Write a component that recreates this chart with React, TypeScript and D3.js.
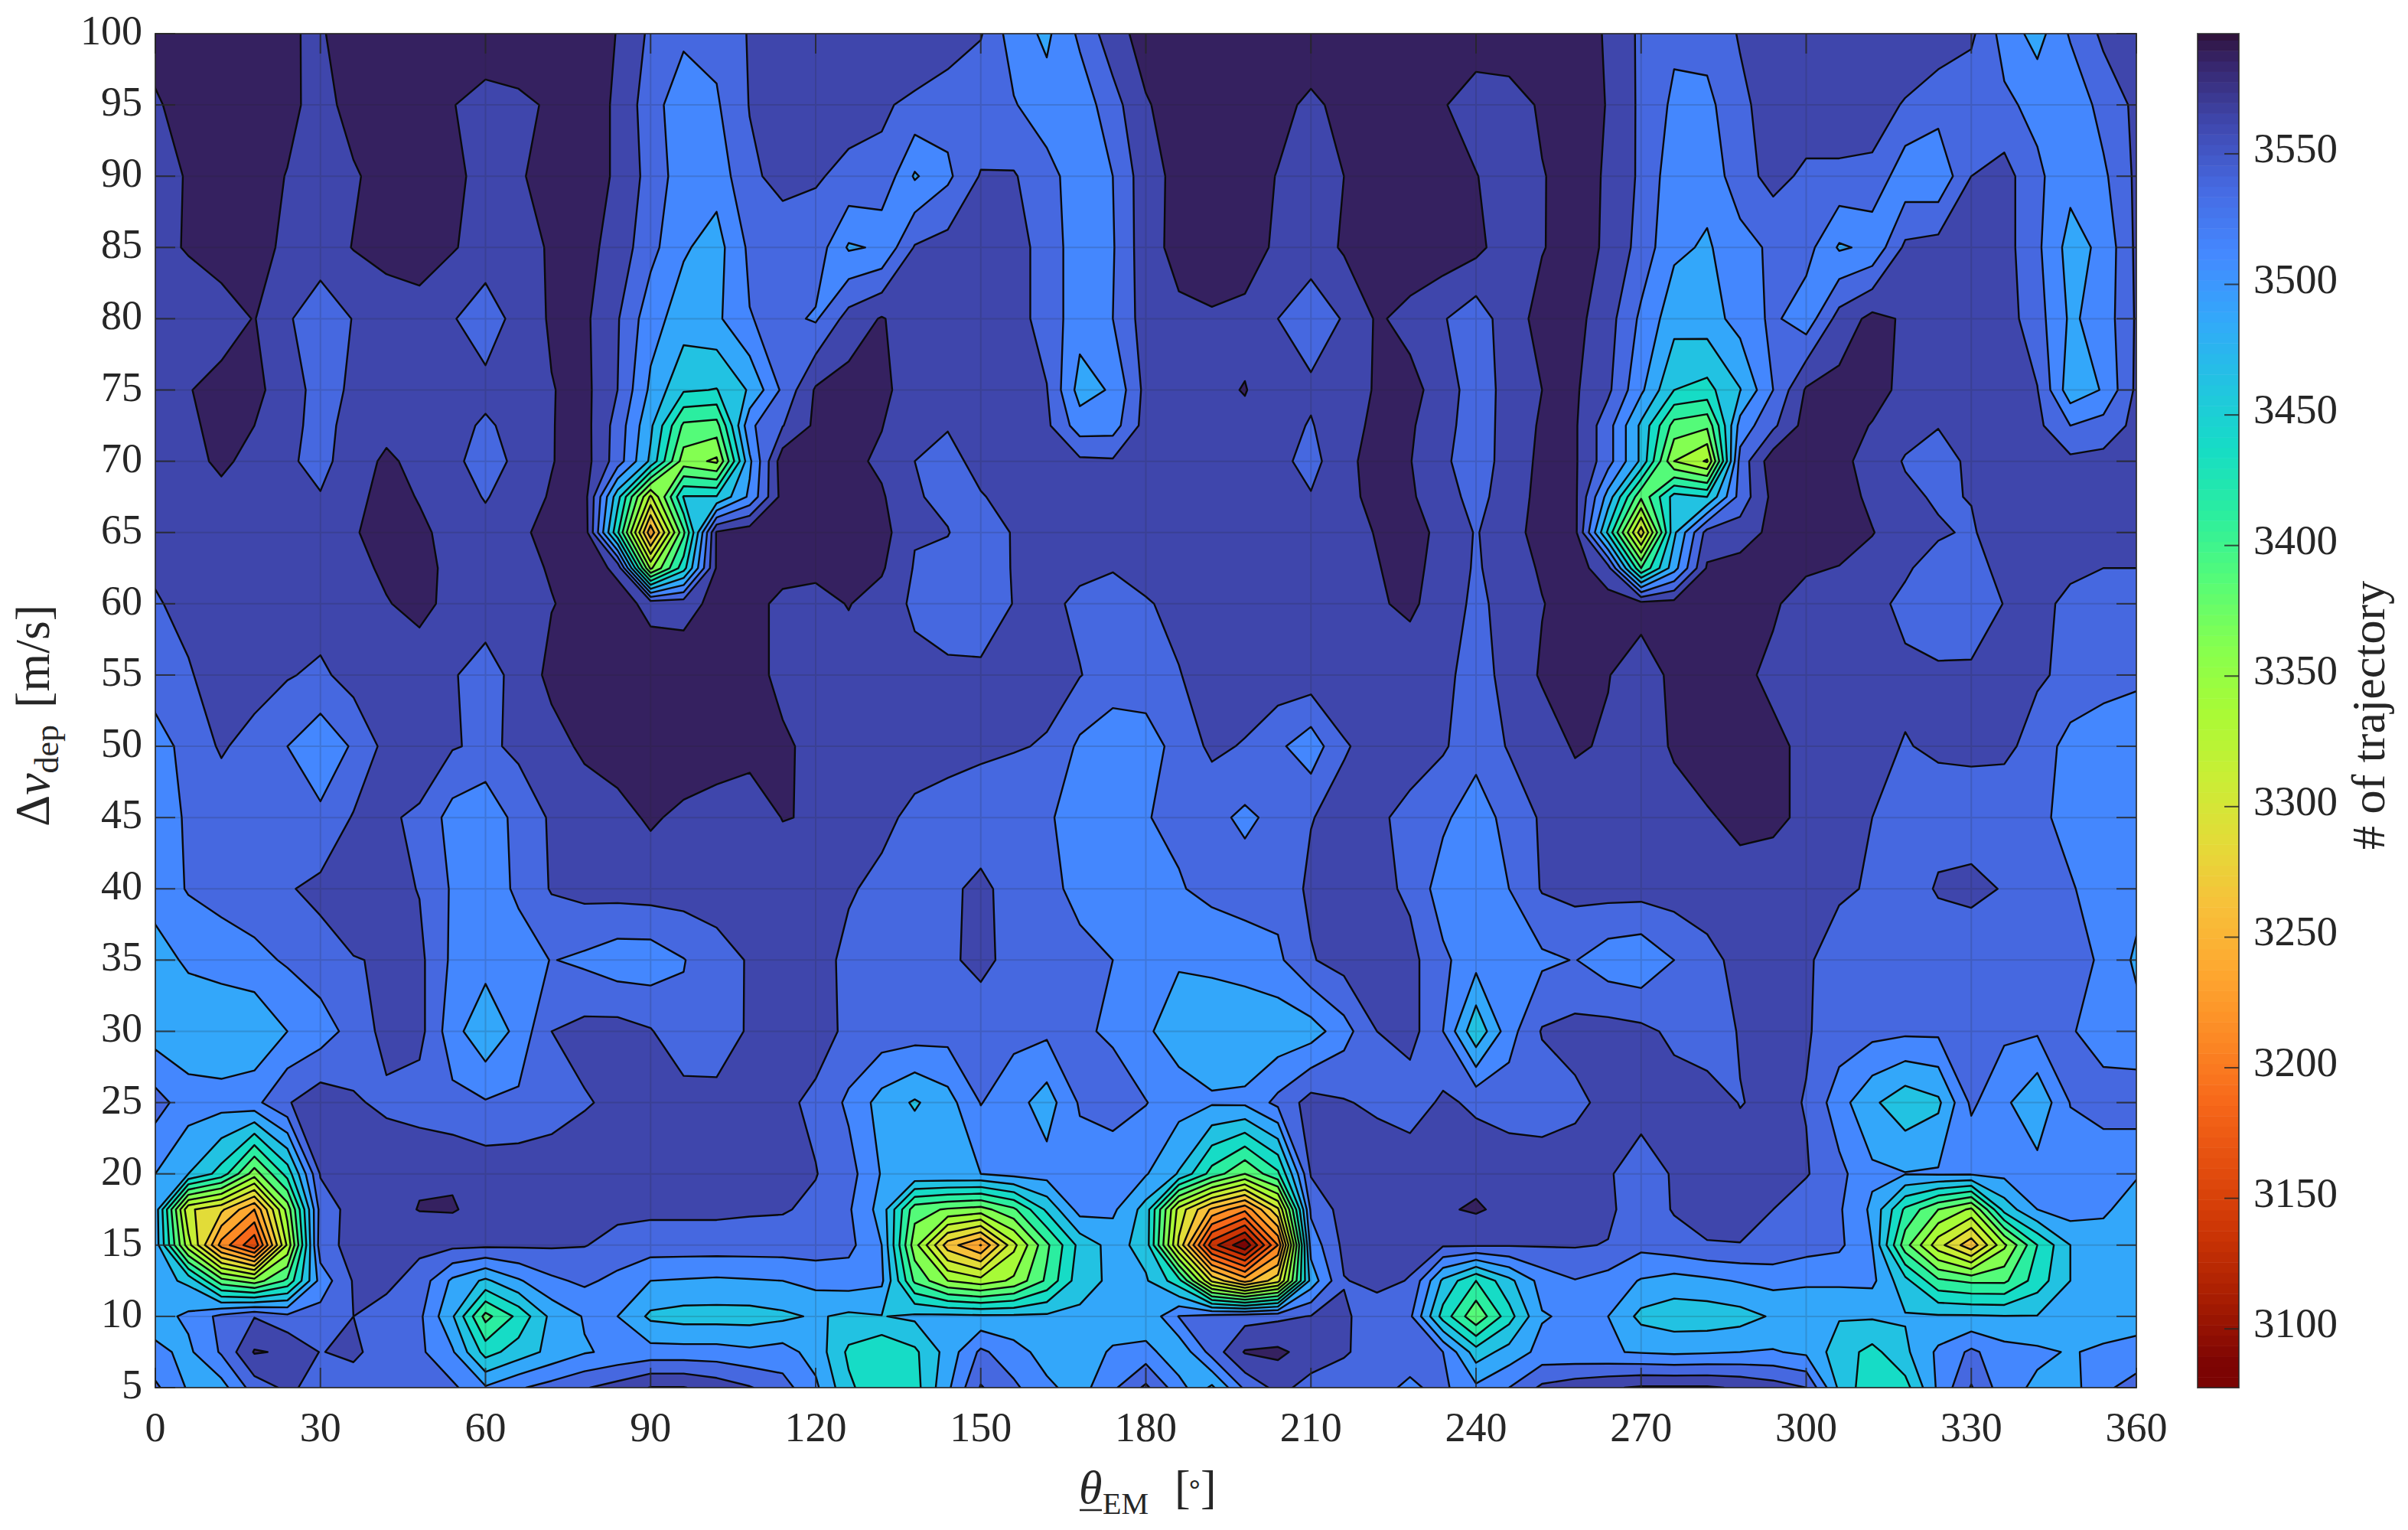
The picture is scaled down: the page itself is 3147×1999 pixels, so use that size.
import React from 'react'
import * as d3 from 'd3'

// columns every 6 deg, rows every 5 m/s with extra rows where the peaks are
const thetas = d3.range(0, 361, 6)
const dvs = [5, 7.5, 10, 12.5, 15, 17.5, 20, 25, 30, 35, 40, 45, 50, 55, 60, 62.5, 65, 67.5, 70, 72.5, 75, 80, 85, 90, 95, 100]

const xTicks = [0, 30, 60, 90, 120, 150, 180, 210, 240, 270, 300, 330, 360]
const yTicks = [5, 10, 15, 20, 25, 30, 35, 40, 45, 50, 55, 60, 65, 70, 75, 80, 85, 90, 95, 100]
const cbTicks = [3100, 3150, 3200, 3250, 3300, 3350, 3400, 3450, 3500, 3550]
const levels = d3.range(3100, 3600, 25)

const colorValues = [3596, 3585, 3562, 3537, 3512, 3487, 3462, 3437, 3412, 3387, 3362, 3337, 3312, 3287, 3262, 3237, 3212, 3187, 3162, 3137, 3112, 3087, 3077]
const colorHex = ['#30123b', '#36256b', '#3f47ad', '#4669e1', '#4488ff', '#33a8fa', '#22c3e2', '#16dcc5', '#2bee9f', '#55fb78', '#84ff50', '#a8fb36', '#c8ee35', '#e3dc38', '#f7c03a', '#fea830', '#fc8a25', '#f7681a', '#e34d0e', '#cc3505', '#a81e02', '#7d0403', '#7a0403']

const z5 = [3530,3497,3490,3537,3555,3540,3535,3535,3535,3530,
  3503,3522,3535,3548,3560,3576,3576,3565,3552,3535,
  3505,3455,3430,3440,3495,3552,3530,3505,3490,3520,
  3555,3510,3470,3530,3558,3540,3535,3530,3522,3530,
  3505,3525,3555,3565,3572,3578,3578,3578,3572,3562,
  3550,3470,3430,3440,3505,3552,3510,3495,3490,3520,
  3535]
const z7_5 = [3505,3495,3528,3577,3572,3549,3556,3535,3530,3503,
  3440,3462,3482,3498,3505,3510,3510,3510,3505,3510,
  3490,3445,3428,3445,3485,3530,3510,3490,3480,3505,
  3510,3480,3535,3577,3580,3565,3553,3538,3532,3525,
  3462,3485,3508,3505,3502,3498,3495,3497,3500,3502,
  3495,3462,3442,3470,3505,3530,3510,3505,3498,3505,
  3510]
const z10 = [3490,3505,3532,3549,3532,3535,3550,3540,3530,3478,
  3392,3432,3482,3502,3500,3470,3465,3465,3465,3470,
  3478,3470,3474,3480,3482,3480,3480,3480,3480,3478,
  3478,3526,3535,3540,3545,3551,3553,3540,3530,3440,
  3380,3440,3498,3505,3500,3468,3460,3460,3465,3478,
  3477,3477,3478,3477,3478,3478,3476,3476,3480,3484,
  3488]
const z12_5 = [3485,3470,3385,3362,3405,3510,3552,3556,3540,3495,
  3470,3497,3520,3530,3518,3500,3498,3496,3498,3500,
  3508,3512,3505,3395,3350,3335,3355,3405,3465,3480,
  3478,3435,3295,3240,3290,3485,3549,3555,3549,3470,
  3425,3468,3510,3524,3515,3498,3490,3495,3502,3508,
  3505,3505,3506,3458,3405,3395,3395,3437,3475,3485,
  3487]
const z15 = [3490,3335,3215,3155,3330,3540,3558,3556,3556,3556,
  3555,3554,3553,3551,3542,3538,3538,3538,3538,3538,
  3538,3532,3500,3360,3262,3224,3318,3395,3458,3485,
  3465,3295,3135,3080,3200,3510,3556,3560,3556,3553,
  3553,3552,3552,3552,3549,3532,3540,3548,3549,3545,
  3535,3530,3500,3385,3310,3258,3345,3425,3475,3485,
  3488]
const z17_5 = [3490,3305,3280,3225,3360,3535,3560,3565,3576,3577,
  3566,3562,3560,3558,3556,3555,3555,3555,3553,3552,
  3545,3528,3490,3385,3372,3365,3395,3455,3510,3505,
  3465,3315,3245,3206,3295,3530,3560,3565,3568,3572,
  3578,3568,3565,3560,3555,3535,3552,3562,3562,3550,
  3535,3528,3495,3420,3375,3345,3460,3500,3512,3505,
  3485]
const z20 = [3500,3475,3440,3362,3435,3552,3566,3568,3572,3572,
  3565,3565,3565,3565,3565,3565,3565,3565,3565,3562,
  3551,3535,3498,3498,3499,3500,3508,3510,3512,3510,
  3502,3473,3415,3375,3420,3552,3565,3568,3570,3570,
  3568,3566,3566,3562,3552,3540,3552,3560,3562,3562,
  3552,3532,3505,3501,3503,3503,3506,3510,3510,3508,
  3503]
const z25 = [3535,3512,3510,3518,3548,3565,3553,3545,3538,3532,
  3527,3530,3538,3548,3555,3560,3562,3560,3558,3555,
  3545,3520,3490,3472,3490,3526,3510,3488,3528,3535,
  3526,3510,3503,3505,3532,3560,3552,3545,3535,3555,
  3545,3538,3535,3545,3556,3558,3560,3562,3549,3556,
  3549,3510,3480,3458,3470,3530,3505,3480,3526,3535,
  3538]
const z30 = [3488,3482,3480,3478,3500,3512,3535,3558,3558,3510,
  3480,3508,3550,3558,3560,3552,3530,3532,3554,3562,
  3560,3545,3540,3538,3535,3532,3532,3530,3528,3522,
  3503,3490,3485,3483,3482,3488,3515,3550,3560,3525,
  3455,3515,3552,3558,3560,3556,3545,3535,3552,3560,
  3552,3540,3533,3530,3530,3530,3530,3528,3527,3515,
  3510]
const z35 = [3490,3504,3510,3518,3528,3540,3549,3552,3556,3520,
  3510,3512,3526,3520,3510,3510,3524,3540,3552,3560,
  3558,3545,3535,3535,3545,3558,3540,3535,3530,3525,
  3510,3502,3505,3510,3520,3548,3560,3565,3558,3530,
  3510,3505,3520,3526,3510,3505,3525,3542,3558,3560,
  3553,3540,3535,3530,3530,3528,3530,3532,3530,3523,
  3495]
const z40 = [3510,3527,3535,3540,3548,3556,3565,3558,3549,3522,
  3510,3530,3552,3558,3560,3562,3562,3562,3560,3558,
  3553,3552,3545,3540,3545,3556,3540,3530,3520,3510,
  3512,3523,3532,3537,3534,3555,3562,3558,3545,3512,
  3505,3525,3552,3558,3560,3560,3562,3564,3564,3562,
  3558,3553,3548,3535,3553,3558,3548,3538,3527,3515,
  3510]
const z45 = [3505,3530,3535,3535,3532,3530,3552,3554,3545,3515,
  3505,3535,3553,3560,3568,3578,3570,3562,3558,3576,
  3573,3562,3555,3545,3540,3535,3530,3528,3515,3510,
  3524,3530,3532,3520,3532,3549,3558,3553,3545,3530,
  3510,3535,3553,3560,3562,3563,3565,3572,3582,3580,
  3570,3560,3550,3545,3540,3535,3532,3530,3518,3510,
  3508]
const z50 = [3512,3535,3553,3540,3525,3508,3528,3558,3570,3552,
  3545,3555,3565,3580,3585,3590,3590,3590,3585,3578,
  3570,3566,3562,3560,3558,3555,3552,3548,3520,3510,
  3512,3535,3555,3548,3530,3510,3548,3558,3558,3553,
  3535,3552,3560,3578,3572,3562,3578,3590,3590,3580,
  3570,3560,3555,3549,3553,3556,3556,3540,3515,3510,
  3508]
const z55 = [3540,3548,3560,3562,3552,3545,3560,3565,3565,3552,
  3540,3558,3582,3588,3590,3590,3590,3590,3582,3570,
  3565,3565,3560,3558,3556,3556,3560,3558,3551,3538,
  3540,3549,3560,3565,3565,3565,3565,3562,3560,3556,
  3540,3558,3578,3582,3576,3562,3581,3590,3580,3570,
  3562,3558,3556,3554,3555,3555,3556,3553,3545,3535,
  3530]
const z60 = [3548,3556,3560,3562,3562,3563,3568,3574,3580,3570,
  3562,3565,3574,3582,3585,3568,3566,3582,3582,3570,
  3568,3576,3565,3545,3535,3532,3551,3556,3545,3535,
  3548,3556,3560,3562,3563,3563,3565,3572,3580,3562,
  3545,3558,3574,3585,3585,3585,3585,3582,3585,3578,
  3565,3560,3556,3545,3530,3532,3551,3556,3545,3538,
  3536]
const z62_5 = [3553,3559,3562,3564,3565,3566,3570,3578,3580,3571,
  3561,3568,3577,3587,3570,3345,3440,3578,3590,3582,
  3580,3582,3578,3548,3542,3533,3552,3558,3555,3552,
  3558,3562,3563,3563,3564,3563,3566,3574,3582,3566,
  3547,3563,3578,3586,3560,3400,3490,3578,3585,3582,
  3578,3574,3566,3553,3540,3540,3558,3560,3554,3550,
  3550]
const z65 = [3560,3562,3565,3565,3566,3568,3573,3584,3578,3570,
  3560,3572,3580,3590,3430,3232,3395,3578,3590,3590,
  3588,3585,3585,3552,3551,3535,3552,3560,3565,3568,
  3568,3568,3565,3565,3565,3562,3568,3576,3582,3570,
  3548,3568,3582,3582,3445,3285,3470,3560,3562,3582,
  3590,3588,3576,3562,3553,3547,3565,3565,3563,3562,
  3562]
const z67_5 = [3561,3566,3571,3568,3560,3552,3570,3581,3574,3564,
  3548,3565,3577,3585,3460,3320,3452,3452,3505,3585,
  3588,3584,3578,3552,3545,3548,3560,3565,3565,3565,
  3565,3566,3566,3565,3562,3552,3570,3580,3578,3562,
  3540,3565,3581,3580,3490,3380,3460,3450,3535,3582,
  3590,3585,3570,3555,3547,3551,3562,3562,3560,3560,
  3561]
const z70 = [3563,3570,3578,3570,3555,3540,3567,3578,3570,3558,
  3535,3558,3574,3585,3538,3470,3362,3345,3495,3590,
  3588,3582,3570,3550,3540,3560,3568,3570,3555,3553,
  3562,3565,3568,3565,3558,3540,3570,3582,3576,3555,
  3535,3562,3580,3578,3535,3470,3350,3322,3535,3590,
  3590,3582,3565,3548,3540,3555,3560,3560,3556,3558,
  3560]
const z72_5 = [3564,3572,3580,3575,3560,3539,3562,3570,3568,3559,
  3546,3559,3574,3584,3540,3480,3395,3390,3520,3549,
  3580,3584,3576,3555,3552,3563,3565,3555,3512,3514,
  3560,3565,3569,3570,3560,3548,3568,3579,3578,3560,
  3535,3561,3578,3578,3535,3470,3390,3380,3510,3545,
  3585,3583,3574,3559,3551,3558,3560,3556,3525,3535,
  3557]
const z75 = [3565,3574,3582,3580,3565,3538,3555,3560,3565,3560,
  3558,3560,3574,3582,3550,3495,3453,3449,3478,3530,
  3578,3585,3582,3560,3565,3566,3562,3551,3490,3503,
  3558,3565,3570,3576,3562,3555,3565,3577,3582,3565,
  3535,3560,3575,3578,3555,3505,3450,3442,3474,3525,
  3578,3583,3582,3570,3562,3562,3560,3551,3485,3502,
  3555]
const z80 = [3557,3560,3565,3576,3553,3535,3551,3555,3562,3552,
  3535,3560,3578,3580,3552,3510,3488,3495,3524,3532,
  3522,3560,3577,3560,3565,3566,3560,3540,3510,3525,
  3562,3570,3572,3568,3550,3535,3552,3578,3568,3552,
  3535,3565,3582,3583,3560,3520,3485,3488,3510,3530,
  3510,3560,3582,3572,3565,3565,3562,3535,3496,3510,
  3553]
const z85 = [3568,3577,3585,3582,3571,3563,3576,3587,3590,3577,
  3565,3568,3577,3583,3565,3533,3503,3490,3530,3535,
  3540,3497,3503,3552,3560,3562,3560,3540,3510,3523,
  3565,3583,3590,3588,3570,3562,3578,3587,3590,3590,
  3582,3560,3574,3583,3572,3540,3505,3497,3515,3530,
  3535,3497,3505,3555,3560,3565,3560,3530,3490,3506,
  3555]
const z90 = [3565,3577,3585,3585,3574,3565,3572,3585,3590,3580,
  3568,3573,3582,3585,3572,3540,3512,3510,3545,3558,
  3552,3545,3545,3497,3520,3552,3552,3535,3510,3525,
  3565,3582,3590,3585,3574,3565,3575,3585,3590,3585,
  3576,3562,3574,3582,3573,3545,3510,3508,3540,3558,
  3545,3545,3545,3508,3505,3550,3560,3530,3508,3520,
  3555]
const z95 = [3572,3585,3590,3590,3582,3565,3585,3590,3590,3576,
  3565,3570,3578,3585,3572,3535,3510,3522,3551,3560,
  3560,3558,3553,3545,3535,3530,3527,3510,3510,3540,
  3573,3585,3590,3590,3582,3570,3582,3590,3590,3577,
  3562,3565,3578,3585,3574,3545,3520,3518,3545,3560,
  3565,3565,3560,3548,3535,3532,3530,3518,3505,3535,
  3555]
const z100 = [3585,3590,3590,3588,3577,3572,3590,3592,3593,3593,
  3593,3592,3592,3590,3574,3545,3530,3532,3552,3562,
  3565,3568,3570,3570,3565,3552,3512,3495,3530,3565,
  3585,3590,3592,3592,3592,3592,3592,3592,3590,3590,
  3590,3590,3590,3588,3572,3545,3530,3535,3552,3560,
  3565,3568,3568,3568,3565,3555,3515,3490,3528,3555,
  3565]

const rows = [z5, z7_5, z10, z12_5, z15, z17_5, z20, z25, z30, z35, z40, z45, z50, z55, z60, z62_5, z65, z67_5, z70, z72_5, z75, z80, z85, z90, z95, z100]

const width = 3147
const height = 1999
const left = 203
const right = 2792
const top = 44
const bottom = 1813
const cbLeft = 2872
const cbRight = 2926
const ink = '#262626'
const serif = '"Liberation Serif", serif'
const tickSize = 54

const x = d3.scaleLinear().domain([0, 360]).range([left, right])
const y = d3.scaleLinear().domain([5, 100]).range([bottom, top])
const cy = d3.scaleLinear().domain([3077.5, 3596]).range([bottom, top]).clamp(true)
const color = d3.scaleLinear<string>().domain(colorValues).range(colorHex).interpolate(d3.interpolateRgb)

// d3.contours puts grid point i at i + 0.5, rows are not evenly spaced so map through the index
const colToTheta = d3.scaleLinear().domain([0, thetas.length - 1]).range([0, 360])
const rowToDv = d3.scaleLinear().domain(dvs.map((_, i) => i)).range(dvs)
const project = d3.geoTransform({
  point(px: number, py: number) {
    this.stream.point(x(colToTheta(px - 0.5)), y(rowToDv(py - 0.5)))
  }
})
const path = d3.geoPath(project)

const contours = d3.contours()
  .size([thetas.length, dvs.length])
  .thresholds(levels)(rows.flat())

const cbBands = d3.range(3077.5, 3596, 4)

export default function App() {
  return (
    <svg width={width} height={height} style={{ position: 'absolute', left: 0, top: 0, background: 'white' }} fontFamily={serif} fill={ink}>
      <defs>
        <clipPath id="plot-area">
          <rect x={left} y={top} width={right - left} height={bottom - top} />
        </clipPath>
      </defs>

      <g clipPath="url(#plot-area)">
        <rect x={left} y={top} width={right - left} height={bottom - top} fill={color(3087)} />
        {contours.map(c => (
          <path key={c.value} d={path(c as any) || ''} fill={color(c.value + 12.5)} stroke="#0a0a0a" strokeWidth={2.4} strokeLinejoin="round" />
        ))}
      </g>

      {/* grid */}
      <g stroke={ink} strokeWidth={2} opacity={0.17}>
        {xTicks.map(t => <line key={t} x1={x(t)} x2={x(t)} y1={top} y2={bottom} />)}
        {yTicks.map(t => <line key={t} x1={left} x2={right} y1={y(t)} y2={y(t)} />)}
      </g>

      {/* ticks on all four sides */}
      <g stroke={ink} strokeWidth={2} opacity={0.8}>
        {xTicks.map(t => (
          <g key={t}>
            <line x1={x(t)} x2={x(t)} y1={bottom} y2={bottom - 26} />
            <line x1={x(t)} x2={x(t)} y1={top} y2={top + 26} />
          </g>
        ))}
        {yTicks.map(t => (
          <g key={t}>
            <line x1={left} x2={left + 26} y1={y(t)} y2={y(t)} />
            <line x1={right} x2={right - 26} y1={y(t)} y2={y(t)} />
          </g>
        ))}
      </g>
      <rect x={left} y={top} width={right - left} height={bottom - top} fill="none" stroke={ink} strokeWidth={2} opacity={0.8} />

      {xTicks.map(t => (
        <text key={t} x={x(t)} y={1883} textAnchor="middle" fontSize={tickSize}>{t}</text>
      ))}
      {yTicks.map(t => (
        <text key={t} x={186} y={y(t) + 14} textAnchor="end" fontSize={tickSize}>{t}</text>
      ))}

      {/* x label */}
      <text x={1410} y={1964} fontSize={62} fontStyle="italic">θ</text>
      <line x1={1411} x2={1440} y1={1973} y2={1973} stroke={ink} strokeWidth={2.5} />
      <text x={1441} y={1978} fontSize={40}>EM</text>
      <text x={1535} y={1964} fontSize={62}>[</text>
      <text x={1550} y={1950} fontSize={36}>∘</text>
      <text x={1569} y={1964} fontSize={62}>]</text>

      {/* y label */}
      <text transform="translate(64,1080) rotate(-90)" fontSize={64}>
        Δ<tspan fontStyle="italic">v</tspan><tspan fontSize={44} dy={12}>dep</tspan><tspan dy={-12} dx={22}>[m/s]</tspan>
      </text>

      {/* colorbar */}
      {cbBands.map(v => (
        <rect key={v} x={cbLeft} width={cbRight - cbLeft} y={cy(v + 4)} height={cy(v) - cy(v + 4) + 0.5} fill={color(v + 2)} />
      ))}
      <rect x={cbLeft} y={top} width={cbRight - cbLeft} height={bottom - top} fill="none" stroke={ink} strokeWidth={2} opacity={0.75} />
      {cbTicks.map(t => (
        <g key={t}>
          <line x1={cbRight - 19} x2={cbRight} y1={cy(t)} y2={cy(t)} stroke={ink} strokeWidth={2} opacity={0.8} />
          <text x={2945} y={cy(t) + 11} fontSize={55}>{t}</text>
        </g>
      ))}
      <text transform="translate(3116,1110) rotate(-90)" fontSize={62}># of trajectory</text>
    </svg>
  )
}
